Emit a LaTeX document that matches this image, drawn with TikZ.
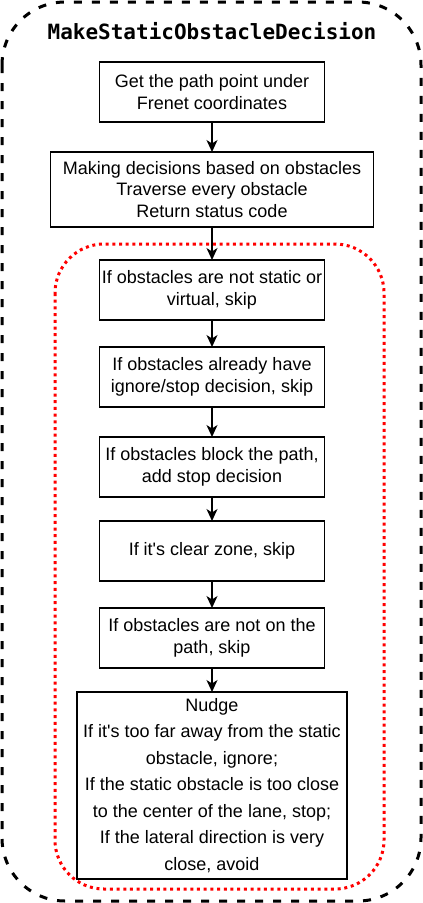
\documentclass[tikz,border=0pt]{standalone}
\usepackage{fontspec}
\setmainfont{Liberation Sans}
\setmonofont{DejaVu Sans Mono}
\usetikzlibrary{positioning, arrows.meta}
\tikzset{%
  stepbox/.style={draw, line width=1.5pt, minimum width=225pt, minimum height=60pt,
    inner sep=0pt, outer sep=0pt, align=center, font=\fontsize{18}{21.6}\selectfont}, % every box of the flow
  nudgebox/.style={stepbox, minimum width=270pt, minimum height=187pt,
    font=\fontsize{18}{26.5}\selectfont},
  outerframe/.style={draw, line width=3pt, dash pattern=on 8pt off 10pt, rounded corners=63pt},
  loopframe/.style={draw=red, line width=3pt, dash pattern=on 3pt off 3.7pt, rounded corners=49pt},
  every edge/.style={%
    draw, line width=1.5pt, -{Stealth[length=12pt, width=11pt, inset=3.5pt]}
  }
}

\begin{document}
\begin{tikzpicture}[x=1pt, y=-1pt]
    \useasboundingbox (0,0) rectangle (423,903);

    % frames
    \draw[outerframe] (2,2) rectangle (421,901);
    \draw[loopframe] (55,244) rectangle (384,889);

    \node[font=\ttfamily\bfseries\fontsize{21}{25}\selectfont] (title) at (212,31.5) {MakeStaticObstacleDecision};

    \node[stepbox] (path) at (212,92) {Get the path point under\\Frenet coordinates};
    \node[stepbox, minimum width=323pt, minimum height=75pt, below=30pt of path] (decide)
      {Making decisions based on obstacles\\Traverse every obstacle\\Return status code};
    \node[stepbox, below=33pt of decide] (static) {If obstacles are not static or\\virtual, skip};
    \node[stepbox, below=27pt of static] (ignore) {If obstacles already have\\ignore/stop decision, skip};
    \node[stepbox, below=30pt of ignore] (block) {If obstacles block the path,\\add stop decision};
    \node[stepbox, below=24pt of block] (clear) {If it\textquotesingle s clear zone, skip};
    \node[stepbox, below=27pt of clear] (onpath) {If obstacles are not on the\\path, skip};
    \node[nudgebox, below=24pt of onpath] (nudge)
      {Nudge\\If it\textquotesingle s too far away from the static\\obstacle, ignore;\\If the static obstacle is too close\\to the center of the lane, stop;\\If the lateral direction is very\\close, avoid};

    \draw (path) edge (decide);
    \draw (decide) edge (static);
    \draw (static) edge (ignore);
    \draw (ignore) edge (block);
    \draw (block) edge (clear);
    \draw (clear) edge (onpath);
    \draw (onpath) edge (nudge);
\end{tikzpicture}
\end{document}
